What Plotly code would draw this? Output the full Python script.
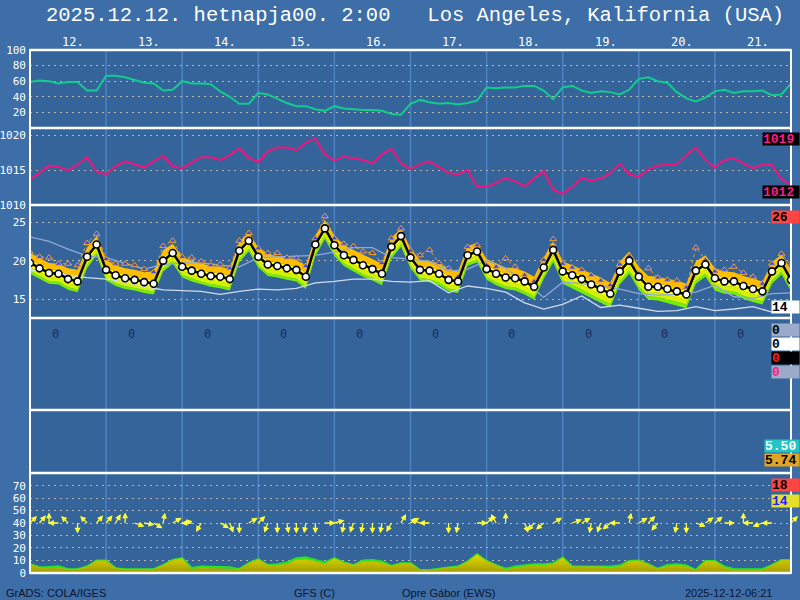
import math
import plotly.graph_objects as go

# ---------------- data ----------------
hours = list(range(0, 241, 3))
hours6 = list(range(0, 241, 6))
day_labels = ["12.", "13.", "14.", "15.", "16.", "17.", "18.", "19.", "20.", "21."]

humidity = [59, 61, 60, 57, 59, 59, 48, 48,
            67, 67, 65, 61, 58, 57, 48, 49,
            60, 57, 57, 56, 47, 40, 31, 31,
            45, 43, 37, 32, 28, 28, 24, 22,
            28, 25, 24, 23, 23, 22, 18, 17,
            31, 36, 33, 31, 32, 30, 32, 35,
            52, 51, 52, 52, 54, 54, 48, 37,
            52, 54, 48, 45, 47, 46, 43, 49,
            63, 65, 60, 58, 46, 38, 34, 39,
            47, 49, 45, 47, 47, 48, 42, 43,
            57]

pressure = [1013.7, 1014.6, 1015.7, 1015.5, 1015.0, 1015.8, 1016.9, 1014.8,
            1014.4, 1015.6, 1016.3, 1015.8, 1015.4, 1016.3, 1017.1, 1015.6,
            1015.3, 1016.1, 1016.9, 1016.9, 1016.5, 1017.2, 1018.2, 1016.8,
            1016.2, 1017.7, 1018.3, 1018.3, 1017.9, 1019.0, 1019.6, 1017.3,
            1016.4, 1017.0, 1016.8, 1016.5, 1016.0, 1017.3, 1018.1, 1016.0,
            1015.2, 1015.9, 1016.3, 1015.4, 1014.6, 1014.4, 1015.1, 1012.6,
            1012.6, 1013.2, 1013.9, 1013.4, 1012.7, 1013.8, 1014.9, 1012.2,
            1011.6, 1012.6, 1013.9, 1013.5, 1013.8, 1014.6, 1016.0, 1014.4,
            1014.1, 1015.1, 1015.7, 1015.8, 1015.9, 1017.2, 1018.3, 1016.5,
            1015.4, 1016.5, 1016.7, 1016.0, 1015.3, 1015.8, 1015.8, 1013.7,
            1012.9]

temp = [19.7, 19.0, 18.4, 18.3, 17.6, 17.3, 20.5, 22.1,
        18.8, 18.1, 17.7, 17.5, 17.2, 17.0, 20.0, 21.0,
        19.2, 18.7, 18.3, 18.0, 17.9, 17.6, 21.3, 22.6,
        20.5, 19.5, 19.3, 19.0, 18.8, 17.9, 22.1, 24.2,
        22.0, 20.7, 20.1, 19.4, 18.9, 18.3, 21.8, 23.2,
        20.4, 18.8, 18.7, 18.3, 17.5, 17.3, 20.7, 21.2,
        18.9, 18.3, 17.8, 17.7, 17.3, 16.6, 19.1, 21.4,
        18.6, 18.1, 17.6, 16.9, 16.3, 15.7, 18.6, 20.0,
        17.9, 16.6, 16.6, 16.3, 16.0, 15.6, 18.7, 19.5,
        17.7, 17.3, 17.3, 16.7, 16.3, 16.0, 18.6, 19.7,
        17.5]

temp_hi = [21.0, 20.3, 19.7, 19.6, 19.0, 18.8, 21.7, 23.2,
           20.1, 19.4, 19.0, 18.8, 18.5, 18.6, 21.4, 22.2,
           20.5, 20.0, 19.6, 19.3, 19.2, 18.9, 22.5, 23.6,
           21.7, 20.8, 20.6, 20.3, 20.1, 19.3, 23.3, 25.3,
           23.3, 22.0, 21.4, 20.7, 20.2, 19.6, 23.0, 24.2,
           21.6, 20.1, 20.0, 19.6, 18.9, 18.6, 21.9, 22.3,
           20.2, 19.7, 19.1, 19.0, 18.6, 17.9, 20.4, 22.5,
           19.9, 19.4, 18.9, 18.3, 17.8, 17.1, 19.9, 21.2,
           19.2, 18.0, 17.9, 17.6, 17.4, 17.0, 19.9, 20.7,
           19.0, 18.6, 18.5, 18.0, 17.6, 17.3, 19.8, 20.8,
           18.8]

temp_lo = [18.3, 17.7, 17.0, 16.9, 16.2, 15.9, 19.0, 20.7,
           17.4, 16.7, 16.3, 16.1, 15.8, 15.6, 18.6, 19.6,
           17.8, 17.3, 16.9, 16.6, 16.4, 16.1, 19.8, 21.2,
           19.1, 18.0, 17.8, 17.5, 17.3, 16.3, 20.6, 22.8,
           20.6, 19.3, 18.6, 17.9, 17.4, 16.8, 20.3, 21.8,
           19.0, 17.4, 17.2, 16.8, 16.0, 15.8, 19.3, 19.8,
           17.5, 16.8, 16.3, 16.1, 15.6, 14.9, 17.6, 19.8,
           17.0, 16.4, 15.8, 15.1, 14.5, 13.9, 16.9, 18.3,
           16.2, 14.9, 14.8, 14.5, 14.2, 13.8, 17.0, 17.9,
           16.1, 15.7, 15.6, 15.0, 14.6, 14.3, 17.0, 18.2,
           16.0]

temp_max = [21.1, 20.5, 20.4, 19.6, 19.6, 19.4, 22.3, 23.5,
            20.2, 19.6, 19.6, 19.4, 18.9, 18.5, 21.9, 22.6,
            20.5, 20.4, 19.9, 19.4, 19.5, 19.0, 22.6, 23.6,
            21.6, 21.0, 21.0, 20.4, 20.3, 19.3, 22.9, 25.8,
            22.9, 22.2, 21.9, 21.2, 21.0, 19.7, 22.9, 24.2,
            21.3, 20.7, 21.4, 19.7, 19.0, 17.9, 21.8, 22.0,
            19.4, 19.2, 20.3, 19.2, 18.1, 17.3, 20.1, 22.8,
            19.6, 19.1, 18.8, 18.1, 17.4, 16.8, 19.5, 20.6,
            18.3, 19.0, 17.8, 17.5, 17.4, 16.5, 21.7, 20.1,
            18.6, 18.8, 19.2, 18.4, 17.9, 17.0, 19.6, 20.9,
            19.4]

temp_ref_a = [23.1, 22.5, 21.5, 20.6, 20.4, 19.6, 18.9, 19.5, 19.7, 19.7,
              19.4, 19.2, 20.4, 20.5, 20.6, 20.7, 21.1, 21.7, 21.7, 20.4,
              20.2, 19.9, 18.6, 18.9, 20.0, 19.0, 17.3, 15.2, 17.2, 17.0,
              16.7, 16.3, 15.7, 15.5, 15.6, 15.9, 16.8, 15.3, 15.1, 15.7,
              15.8]
temp_ref_b = [18.8, 18.5, 18.1, 17.8, 17.6, 17.2, 16.6, 16.2, 16.1, 16.0,
              15.6, 16.0, 16.3, 16.2, 16.4, 17.1, 17.3, 17.6, 17.6, 17.3,
              17.2, 17.4, 15.8, 16.7, 16.4, 15.9, 14.5, 13.7, 14.3, 15.4,
              13.9, 14.2, 13.8, 13.4, 13.5, 14.0, 13.5, 13.7, 14.0, 13.3,
              13.9]

precip_daily = ["0", "0", "0", "0", "0", "0", "0", "0", "0", "0"]

wind_gust = [7.0, 4.0, 4.5, 5.0, 2.7, 2.7, 4.8, 9.6,
             9.6, 3.5, 2.7, 2.7, 2.7, 2.7, 6.0, 10.0,
             11.5, 3.6, 4.8, 4.6, 4.5, 4.3, 2.7, 7.5,
             10.7, 6.0, 6.7, 8.0, 11.5, 12.3, 10.0, 8.0,
             11.5, 8.0, 6.0, 9.6, 10.0, 8.8, 5.3, 7.5,
             7.5, 2.0, 2.0, 2.7, 4.0, 4.8, 8.8, 14.7,
             9.3, 6.0, 3.0, 4.8, 6.0, 6.7, 6.7, 7.5,
             12.0, 4.8, 4.8, 4.8, 4.8, 4.8, 5.6, 9.3,
             9.6, 6.7, 3.0, 6.0, 6.7, 5.6, 2.0, 9.3,
             9.3, 4.8, 2.7, 2.7, 2.7, 2.7, 6.0, 10.0,
             10.0]
wind_mean = [7.0, 4.0, 3.4, 3.8, 2.7, 2.7, 4.8, 9.6,
             9.6, 3.5, 2.7, 2.7, 2.7, 2.7, 6.0, 10.0,
             11.5, 2.7, 3.8, 3.6, 3.5, 3.5, 2.7, 7.5,
             10.7, 6.0, 6.0, 7.0, 10.5, 11.0, 9.0, 7.0,
             11.5, 8.0, 6.0, 9.0, 9.3, 8.0, 5.3, 7.5,
             7.5, 2.0, 2.0, 2.7, 4.0, 4.8, 8.8, 14.7,
             9.3, 6.0, 2.4, 4.0, 5.2, 6.0, 6.0, 6.8,
             12.0, 4.8, 4.8, 4.8, 4.8, 4.0, 4.8, 9.3,
             9.6, 6.7, 3.0, 5.2, 6.0, 4.8, 2.0, 9.3,
             9.3, 4.0, 2.0, 2.0, 2.0, 2.0, 6.0, 10.0,
             10.0]
# direction the arrow points to (degrees, 0 = up, 90 = right)
wind_dir = [45, 40, 0, 270, 315, 180, 315, 40,
            40, 30, 0, 110, 100, 120, 10, 60,
            80, 270, 210, None, 120, 160, 180, 60,
            45, 200, 180, 170, 180, 190, 180, 90,
            75, 190, 200, 190, 180, 190, 210, 30,
            60, 290, 270, None, 180, 190, None, 90,
            50, 330, 0, None, 160, 220, 230, 60,
            None, 70, 60, 190, 200, 230, 270, 10,
            60, 45, 220, None, 190, 180, 110, 55,
            50, 90, None, 0, 270, 250, 270, None,
            45]

right_labels = [("1019", 139, "#000000", "#ff1a8c", 36),
                ("1012", 192, "#000000", "#ff1a8c", 36),
                ("26", 217, "#ff4444", "#000000", 27),
                ("14", 307, "#ffffff", "#000000", 27),
                ("0", 330, "#9aaac8", "#000000", 27),
                ("0", 344, "#ffffff", "#000000", 27),
                ("0", 358, "#000000", "#ff2020", 27),
                ("0", 372, "#9aaac8", "#ff1a8c", 27),
                ("5.50", 446, "#22c4c4", "#ffffff", 34),
                ("5.74", 460, "#e0a428", "#000000", 34),
                ("18", 485, "#ff4444", "#000000", 27),
                ("14", 501, "#e4e02a", "#2020ff", 27)]

# ---------------- layout constants ----------------
W, H = 800, 600
X0, X1 = 30, 791
OUTER = "#3d6ea7"
INNER = "#35649a"
GRID = "#b9b5ab"


def py(pix):
    return 1 - pix / H


panels = [(50, 128), (128, 205), (205, 318), (318, 410), (410, 473), (473, 573)]
domains = [[py(b), py(t)] for t, b in panels]

fig = go.Figure()

# ---- panel 1 humidity
fig.add_trace(go.Scatter(x=hours, y=humidity, mode="lines",
                         line=dict(color="#12cc8e", width=2), yaxis="y"))
# ---- panel 2 pressure
fig.add_trace(go.Scatter(x=hours, y=pressure, mode="lines",
                         line=dict(color="#f2147c", width=2), yaxis="y2"))

# ---- panel 3 temperature ensemble band
b1 = [m + 0.35 * (h - m) for m, h in zip(temp, temp_hi)]
b2 = [m - 0.40 * (m - l) for m, l in zip(temp, temp_lo)]
b3 = [m - 0.75 * (m - l) for m, l in zip(temp, temp_lo)]
band = [(temp_lo, None, None), (b3, "tonexty", "#74ee08"),
        (b2, "tonexty", "#d2f400"), (b1, "tonexty", "#ffff00"),
        (temp_hi, "tonexty", "#ffbf00")]
for ys, fl, col in band:
    fig.add_trace(go.Scatter(x=hours, y=ys, mode="lines", line=dict(width=0),
                             fill=fl, fillcolor=col, yaxis="y3"))
fig.add_trace(go.Scatter(x=hours6, y=temp_ref_a, mode="lines",
                         line=dict(color="#8ea9d6", width=1.3), yaxis="y3"))
fig.add_trace(go.Scatter(x=hours6, y=temp_ref_b, mode="lines",
                         line=dict(color="#cfdaec", width=1.3), yaxis="y3"))
fig.add_trace(go.Scatter(x=hours, y=temp_max, mode="lines+markers",
                         line=dict(color="#f0a030", width=1, dash="dot"),
                         marker=dict(symbol="triangle-up", size=6, color="#2f4ff0",
                                     line=dict(color="#f0a030", width=1)),
                         yaxis="y3"))
fig.add_trace(go.Scatter(x=hours, y=temp, mode="lines+markers",
                         line=dict(color="#000000", width=2.5),
                         marker=dict(symbol="circle", size=7, color="#ffffff",
                                     line=dict(color="#000000", width=1.6)),
                         yaxis="y3"))

# ---- panel 6 wind
fig.add_trace(go.Scatter(x=hours, y=wind_gust, mode="lines",
                         line=dict(color="#22e622", width=2.5), yaxis="y6"))
fig.add_trace(go.Scatter(x=hours, y=wind_mean, mode="lines",
                         line=dict(color="#c8c000", width=0.5), fill="tozeroy",
                         fillgradient=dict(type="vertical",
                                           colorscale=[[0, "#a49c00"], [1, "#e2dc00"]]),
                         yaxis="y6"))

for tr in fig.data:
    tr.showlegend = False
    tr.hoverinfo = "skip"

tickfont = dict(color="white", family="DejaVu Sans Mono", size=11)


def yax(dom, rng, vals, texts=None):
    d = dict(domain=dom, range=rng, anchor="x", tickvals=vals, showgrid=True,
             gridcolor=GRID, griddash="2px,4px", gridwidth=1, zeroline=False,
             showline=False, ticks="", tickfont=tickfont, fixedrange=True,
             automargin=False, ticklabelstandoff=3)
    if texts is not None:
        d["ticktext"] = texts
    return d


layout_axes = dict(
    yaxis=yax(domains[0], [0, 100], [20, 40, 60, 80, 100]),
    yaxis2=yax(domains[1], [1010, 1021.1], [1010, 1015, 1020]),
    yaxis3=yax(domains[2], [12.53, 27.25], [15, 20, 25]),
    yaxis4=yax(domains[3], [0, 10.95], [1, 5, 10]),
    yaxis5=yax(domains[4], [-7.88, 3.17], [-6, -4, -2, 0, 2],
               ["-6", "-4", "-2", "0", "2"]),
    yaxis6=yax(domains[5], [-0.2, 80.2], [0, 10, 20, 30, 40, 50, 60, 70]),
)

shapes = []
# panel background
shapes.append(dict(type="rect", xref="paper", yref="paper", x0=X0 / W, x1=X1 / W,
                   y0=py(573), y1=py(50), fillcolor=INNER, line=dict(width=0),
                   layer="below"))
# day lines
for d in range(1, 10):
    shapes.append(dict(type="line", xref="x", yref="paper", x0=24 * d, x1=24 * d,
                       y0=py(573), y1=py(50), line=dict(color="#4d82c4", width=1.5),
                       layer="below"))
# white frame lines
for yy in [50, 128, 205, 318, 410, 473, 573]:
    shapes.append(dict(type="line", xref="paper", yref="paper", x0=X0 / W, x1=X1 / W,
                       y0=py(yy), y1=py(yy), line=dict(color="white", width=2.5)))
for xx in [X0, X1]:
    shapes.append(dict(type="line", xref="paper", yref="paper", x0=xx / W, x1=xx / W,
                       y0=py(574), y1=py(49), line=dict(color="white", width=2)))

ann = []
nb = "\u00a0"
title = "2025.12.12. hetnapja00. 2:00" + nb * 3 + "Los Angeles, Kalifornia (USA)"
ann.append(dict(text=title.replace(" ", nb), xref="paper", yref="paper",
                x=44 / W, y=py(16), xanchor="left", yanchor="middle", showarrow=False,
                font=dict(family="Liberation Mono", size=20.5, color="white")))
for i, lab in enumerate(day_labels):
    ann.append(dict(text=lab, xref="x", yref="paper", x=24 * i + 13.5, y=py(42),
                    xanchor="center", yanchor="middle", showarrow=False,
                    font=dict(family="DejaVu Sans Mono", size=12, color="white")))
for i, val in enumerate(precip_daily):
    ann.append(dict(text=val, xref="x", yref="paper", x=24 * i + 8, y=py(334),
                    xanchor="center", yanchor="middle", showarrow=False,
                    font=dict(family="DejaVu Sans Mono", size=12, color="#1c2c56")))
for txt, yy, bg, fg, wd in right_labels:
    ann.append(dict(text="<b>" + txt + "</b>", xref="paper", yref="paper", x=1.0,
                    y=py(yy), xanchor="right", yanchor="middle", showarrow=False,
                    bgcolor=bg, width=wd, height=12, align="left", borderpad=0,
                    font=dict(family="Liberation Mono", size=13, color=fg)))
foot = dict(family="Liberation Sans", size=11, color="#0c1430")
ann.append(dict(text="GrADS: COLA/IGES", xref="paper", yref="paper", x=4 / W, y=py(593),
                xanchor="left", yanchor="middle", showarrow=False, font=foot))
ann.append(dict(text="GFS (C)", xref="paper", yref="paper", x=292 / W, y=py(593),
                xanchor="left", yanchor="middle", showarrow=False, font=foot))
ann.append(dict(text="Opre Gábor (EWS)", xref="paper", yref="paper", x=400 / W, y=py(593),
                xanchor="left", yanchor="middle", showarrow=False, font=foot))
ann.append(dict(text="2025-12-12-06:21", xref="paper", yref="paper", x=683 / W, y=py(593),
                xanchor="left", yanchor="middle", showarrow=False, font=foot))
# wind arrows
L = 12
for h, d in zip(hours, wind_dir):
    if d is None:
        continue
    r = math.radians(d)
    ann.append(dict(text="", xref="x", yref="y6", x=h, y=40,
                    ax=L * math.sin(r), ay=-L * math.cos(r),
                    showarrow=True, arrowside="start", startarrowhead=2,
                    startarrowsize=0.9, arrowwidth=1.3, arrowcolor="#ffff3a"))

fig.update_layout(
    width=W, height=H, autosize=False,
    margin=dict(l=0, r=0, t=0, b=0, autoexpand=False),
    paper_bgcolor=OUTER, plot_bgcolor="rgba(0,0,0,0)",
    xaxis=dict(domain=[X0 / W, X1 / W], range=[0, 240], showgrid=False,
               zeroline=False, showticklabels=False, ticks="", showline=False,
               fixedrange=True, automargin=False),
    shapes=shapes, annotations=ann, showlegend=False,
    **layout_axes,
)

fig.write_html("out.html", config={"displayModeBar": False},
               post_script="document.body.style.margin='0px';"
                           "document.body.style.overflow='hidden';")
